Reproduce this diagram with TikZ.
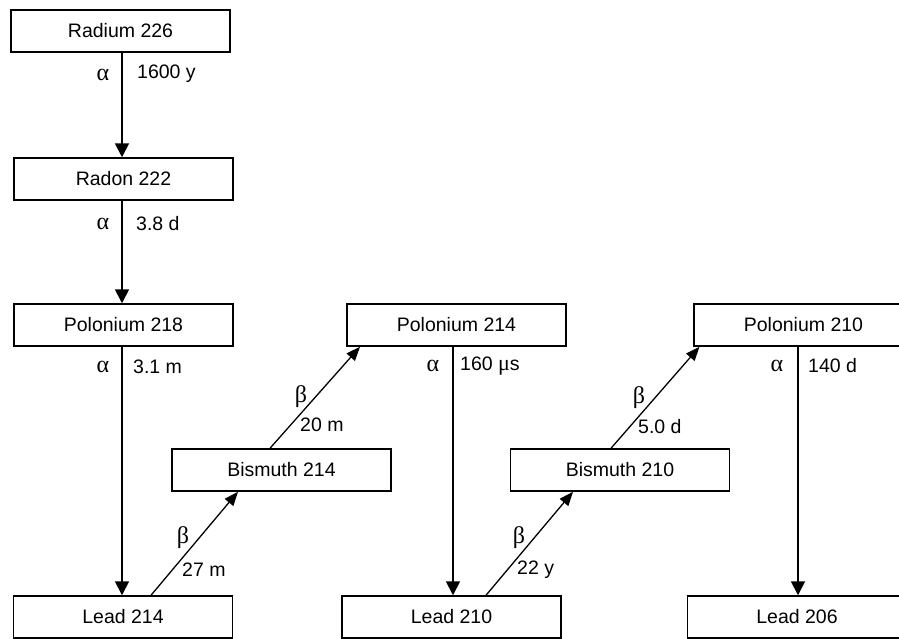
\documentclass[tikz,border=0pt]{standalone}
\usepackage{fontspec}
\setmainfont{Liberation Sans}
\newfontfamily\grk{Liberation Serif}
\usetikzlibrary{arrows.meta}
\begin{document}
\begin{tikzpicture}[x=1pt,y=-1pt,
  nuc/.style={draw,line width=1.5pt,minimum width=219pt,minimum height=42pt,inner sep=0pt,font=\fontsize{19.5}{22}\selectfont},
  lbl/.style={inner sep=0pt,font=\fontsize{19.5}{22}\selectfont},
  glbl/.style={inner sep=0pt,font=\grk\fontsize{24}{26}\selectfont},
  varr/.style={line width=1.8pt,-{Triangle[length=14pt,width=14pt]}},
  darr/.style={line width=1.3pt,-{Triangle[length=14pt,width=11pt]}}]
\clip (0,0) rectangle (899,638);
\useasboundingbox (0,0) rectangle (899,638);
\node[nuc] (ra226) at (120.5,31) {Radium 226};
\node[nuc] (rn222) at (123.5,179) {Radon 222};
\node[nuc] (po218) at (123.5,325) {Polonium 218};
\node[nuc] (po214) at (456.5,325) {Polonium 214};
\node[nuc] (po210) at (803.5,325) {Polonium 210};
\node[nuc] (bi214) at (281.5,470) {Bismuth 214};
\node[nuc] (bi210) at (620,470) {Bismuth 210};
\node[nuc] (pb214) at (123,617) {Lead 214};
\node[nuc] (pb210) at (451.5,617) {Lead 210};
\node[nuc] (pb206) at (797,617) {Lead 206};
% vertical alpha decays
\draw[varr] ([xshift=1.5pt]ra226.south) -- ([xshift=-1.5pt]rn222.north);
\draw[varr] ([xshift=-1.5pt]rn222.south) -- ([xshift=-1.5pt]po218.north);
\draw[varr] ([xshift=-1.5pt]po218.south) -- ([xshift=-1pt]pb214.north);
\draw[varr] ([xshift=-3.5pt]po214.south) -- ([xshift=1.5pt]pb210.north);
\draw[varr] ([xshift=-5.5pt]po210.south) -- ([xshift=1pt]pb206.north);
% diagonal beta decays
\draw[darr] ([xshift=28pt]pb214.north) -- ([xshift=-43.5pt]bi214.south);
\draw[darr] ([xshift=-11.5pt]bi214.north) -- ([xshift=-96.5pt]po214.south);
\draw[darr] ([xshift=34.5pt]pb210.north) -- ([xshift=-47pt]bi210.south);
\draw[darr] ([xshift=-9pt]bi210.north) -- ([xshift=-104pt]po210.south);
% labels
\node[glbl] (a1) at (103,75) {α};
\node[lbl,anchor=west] (t1) at (137,74) {1600 y};
\node[glbl] (a2) at (103,224) {α};
\node[lbl,anchor=west] (t2) at (136,224) {3.8 d};
\node[glbl] (a3) at (103,367) {α};
\node[lbl,anchor=west] (t3) at (133,367) {3.1 m};
\node[glbl] (a4) at (433,366) {α};
\node[lbl,anchor=west] (t4) at (460,366) {160 {\grk\fontsize{22}{22}\selectfont μ}s};
\node[glbl] (a5) at (777,366) {α};
\node[lbl,anchor=west] (t5) at (808,366) {140 d};
\node[glbl] (b1) at (301,397) {β};
\node[lbl,anchor=west] (t6) at (300,425) {20 m};
\node[glbl] (b2) at (639,398) {β};
\node[lbl,anchor=west] (t7) at (638,427) {5.0 d};
\node[glbl] (b3) at (183,538) {β};
\node[lbl,anchor=west] (t8) at (182,570) {27 m};
\node[glbl] (b4) at (519,538) {β};
\node[lbl,anchor=west] (t9) at (517,570) {22 y};
\end{tikzpicture}
\end{document}
